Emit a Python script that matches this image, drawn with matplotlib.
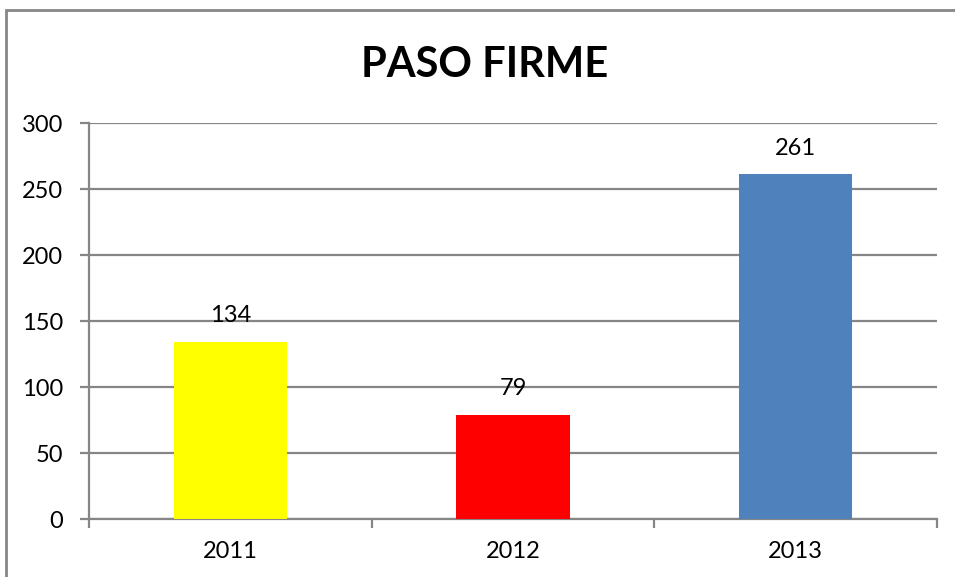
import matplotlib.pyplot as plt
from matplotlib.patches import Rectangle

# data
years = ["2011", "2012", "2013"]
values = [134, 79, 261]
bar_colors = ["#FFFF00", "#FF0000", "#4F81BD"]
y_ticks = [0, 50, 100, 150, 200, 250, 300]

plt.rcParams["font.family"] = ["Lato", "DejaVu Sans"]
grid_gray = "#868686"

fig = plt.figure(figsize=(9.55, 5.77), dpi=100)
ax = fig.add_axes([89 / 955, 58 / 577, 848 / 955, 396 / 577])

x = list(range(len(years)))
bars = ax.bar(x, values, width=0.4, color=bar_colors, zorder=3)

for rect, v in zip(bars, values):
    ax.annotate(str(v), (rect.get_x() + rect.get_width() / 2, v),
                xytext=(0, 19), textcoords="offset points",
                ha="center", va="center", fontsize=17)

ax.set_xlim(-0.5, 2.5)
ax.set_ylim(0, 300)
ax.set_yticks(y_ticks)
ax.set_yticklabels([str(t) for t in y_ticks], fontsize=17)
ax.yaxis.grid(True, color=grid_gray, linewidth=1.6, zorder=0)
ax.tick_params(axis="y", length=6.5, width=1.6, color=grid_gray, direction="out", pad=12)

# category labels at centers, tick marks at category boundaries
ax.set_xticks(x)
ax.set_xticklabels(years, fontsize=17)
ax.set_xticks([-0.5, 0.5, 1.5, 2.5], minor=True)
ax.tick_params(axis="x", which="major", length=0, pad=16)
ax.tick_params(axis="x", which="minor", length=6.5, width=1.6, color=grid_gray, direction="out")

for side in ["top", "right"]:
    ax.spines[side].set_visible(False)
for side in ["left", "bottom"]:
    ax.spines[side].set_color(grid_gray)
    ax.spines[side].set_linewidth(1.6)

fig.text(485 / 955, 1 - 65 / 577, "PASO FIRME", ha="center", va="center",
         fontsize=30, fontweight="bold")

# chart border (runs off the right and bottom edges)
fig.patches.append(Rectangle((6 / 955, -0.05), 1.1, 1 - 10 / 577 + 0.05,
                             transform=fig.transFigure, fill=False,
                             edgecolor=grid_gray, linewidth=2))

fig.savefig("out.png", dpi=100)
